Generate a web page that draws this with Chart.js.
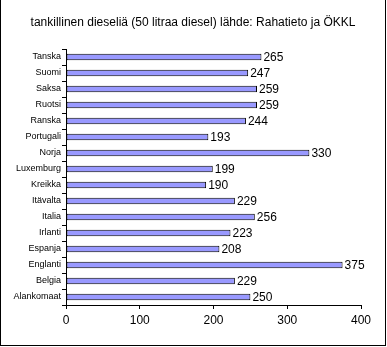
<!DOCTYPE html>
<html>
<head>
<meta charset="utf-8">
<script src="https://cdn.jsdelivr.net/npm/chart.js@4"></script>
<style>
  html, body { margin: 0; padding: 0; background: #fff; }
  #wrap { position: absolute; left: 0; top: 0; width: 387px; height: 347px; }
  #frame { position: absolute; left: 0; top: 0; width: 384px; height: 345px;
           border-left: 1px solid #000; border-right: 1px solid #000; border-bottom: 1px solid #000; pointer-events: none; }
</style>
</head>
<body>
<div id="wrap">
  <canvas id="chart" width="387" height="347"></canvas>
  <div id="frame"></div>
</div>
<script>
const titleText = 'tankillinen dieseliä (50 litraa diesel) lähde: Rahatieto ja ÖKKL';
const countries = ['Tanska', 'Suomi', 'Saksa', 'Ruotsi', 'Ranska', 'Portugali', 'Norja', 'Luxemburg',
                   'Kreikka', 'Itävalta', 'Italia', 'Irlanti', 'Espanja', 'Englanti', 'Belgia', 'Alankomaat'];
const prices = [265, 247, 259, 259, 244, 193, 330, 199, 190, 229, 256, 223, 208, 375, 229, 250];
const xTicks = [0, 100, 200, 300, 400];

// title + value labels drawn on canvas
const extras = {
    id: 'extras',
    afterDatasetsDraw(chart) {
        const ctx = chart.ctx;
        ctx.save();
        ctx.fillStyle = '#000';
        ctx.font = '12px "Liberation Sans", Arial, sans-serif';
        ctx.textAlign = 'center';
        ctx.textBaseline = 'middle';
        ctx.fillText(titleText, 193, 23);

        ctx.textAlign = 'left';
        const meta = chart.getDatasetMeta(0);
        meta.data.forEach((bar, i) => {
            ctx.fillText(String(prices[i]), bar.x + 2, bar.y + 0.5);
        });
        ctx.restore();
    }
};

new Chart(document.getElementById('chart'), {
    type: 'bar',
    data: {
        labels: countries,
        datasets: [{
            data: prices,
            backgroundColor: '#9999FF',
            borderColor: '#000',
            borderWidth: 1,
            borderSkipped: false,
            categoryPercentage: 1,
            barPercentage: 0.4
        }]
    },
    options: {
        indexAxis: 'y',
        responsive: false,
        animation: false,
        layout: { padding: { top: 49, right: 26, bottom: 12, left: 0 } },
        scales: {
            x: {
                min: 0, max: 400,
                afterFit: (s) => { s.height = 30; },
                afterBuildTicks: (s) => { s.ticks = xTicks.map(v => ({ value: v })); },
                border: { color: '#000', width: 1 },
                grid: { drawOnChartArea: false, drawTicks: true, tickLength: 4, tickColor: '#000' },
                ticks: { color: '#000', padding: 4, maxRotation: 0,
                         font: { family: '"Liberation Sans", Arial, sans-serif', size: 12 } }
            },
            y: {
                afterFit: (s) => { s.width = 66; },
                border: { color: '#000', width: 1 },
                grid: { offset: true, drawOnChartArea: false, drawTicks: true, tickLength: 4, tickColor: '#000' },
                ticks: { color: '#000', padding: 1, autoSkip: false,
                         font: { family: '"Liberation Sans", Arial, sans-serif', size: 9 } }
            }
        },
        plugins: {
            legend: { display: false },
            tooltip: { enabled: false }
        }
    },
    plugins: [extras]
});
</script>
</body>
</html>
